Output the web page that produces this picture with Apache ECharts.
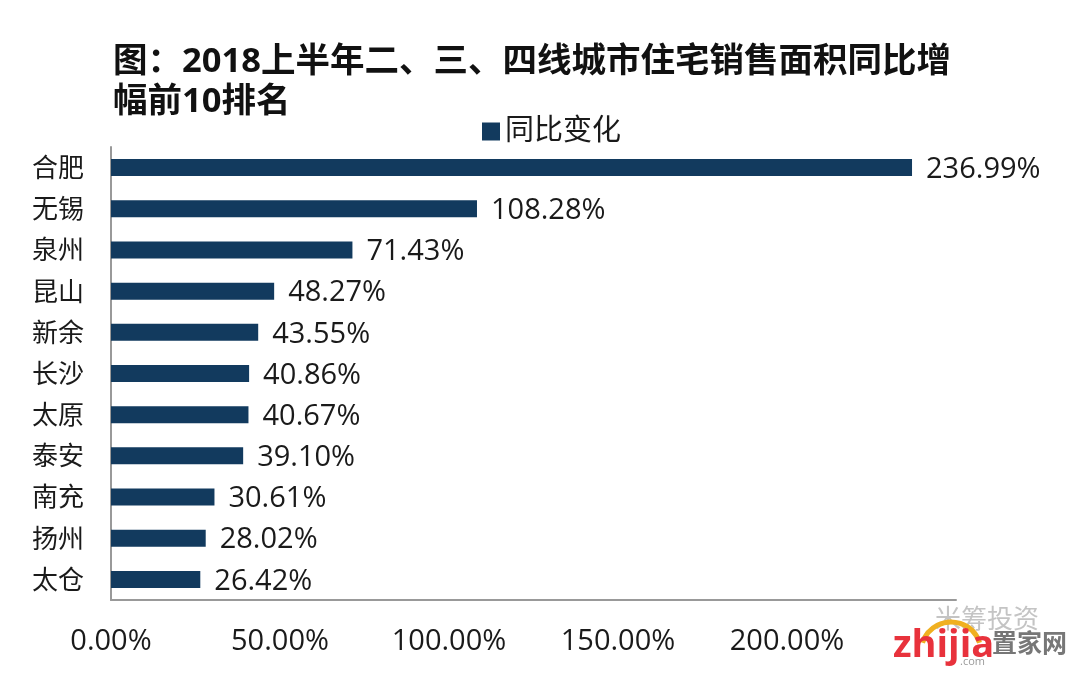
<!DOCTYPE html>
<html lang="zh">
<head>
<meta charset="UTF-8">
<title>图表</title>
<script src="https://cdn.jsdelivr.net/npm/echarts@6/dist/echarts.min.js"></script>
<style>
  html,body{margin:0;padding:0;background:#fff;}
  #chart{width:1072px;height:674px;}
</style>
</head>
<body>
<div id="chart"></div>
<script>
var cities = ['合肥','无锡','泉州','昆山','新余','长沙','太原','泰安','南充','扬州','太仓'];
var changes = [236.99,108.28,71.43,48.27,43.55,40.86,40.67,39.10,30.61,28.02,26.42];
var seriesName = '同比变化';
var titleText = '图：2018上半年二、三、四线城市住宅销售面积同比增\n幅前10排名';

var font = '"Open Sans","Noto Sans CJK SC",sans-serif';
var chart = echarts.init(document.getElementById('chart'));
chart.setOption({
  animation: false,
  textStyle: {fontFamily: font},
  title: {
    text: titleText,
    left: 108, top: 37,
    textStyle: {fontSize: 34.5, fontWeight: 'bold', color: '#111', lineHeight: 40, fontFamily: font}
  },
  legend: {
    data: [seriesName],
    left: 477, top: 112,
    icon: 'rect',
    itemWidth: 18, itemHeight: 18, itemGap: 3,
    textStyle: {fontSize: 29, color: '#1a1a1a', fontFamily: font}
  },
  grid: {left: 111, width: 845, top: 147, bottom: 74},
  xAxis: {
    type: 'value', min: 0, max: 250, interval: 50,
    axisLine: {show: true, onZero: false, lineStyle: {color: '#999', width: 2}},
    axisTick: {show: false}, splitLine: {show: false},
    axisLabel: {
      fontSize: 29, color: '#1a1a1a', margin: 27, showMaxLabel: false,
      formatter: function (v) { return v.toFixed(2) + '%'; }
    }
  },
  yAxis: {
    type: 'category', inverse: true, data: cities,
    axisLine: {show: true, lineStyle: {color: '#999', width: 2}},
    axisTick: {show: false},
    // 文字略往下移一点
    axisLabel: {fontSize: 26, color: '#1a1a1a', margin: 27, verticalAlign: 'top', lineHeight: 4}
  },
  series: [{
    name: seriesName, type: 'bar', data: changes, barWidth: 17,
    itemStyle: {color: '#123a5e'},
    label: {
      show: true, position: 'right', distance: 14, offset: [0, 2],
      fontSize: 29, color: '#1a1a1a',
      formatter: function (p) { return p.value.toFixed(2) + '%'; }
    }
  }],
  // 右下角水印
  graphic: [
    {type: 'text', left: 935, top: 608, style: {text: '米筹投资', fontSize: 26, fill: '#c4c4c4', fontFamily: font}},
    {type: 'arc', shape: {cx: 951, cy: 652, r: 30, startAngle: Math.PI * 1.1, endAngle: Math.PI * 1.9},
      style: {stroke: '#f0b020', lineWidth: 5, fill: 'none'}},
    {type: 'text', left: 893, top: 627, style: {text: 'zhijia', fontSize: 38, fontWeight: 'bold', fill: '#e8323c', fontFamily: font}},
    {type: 'text', left: 992, top: 632, style: {text: '置家网', fontSize: 25, fontWeight: 'bold', fill: '#777', fontFamily: font}},
    {type: 'text', left: 960, top: 656, style: {text: '.com', fontSize: 11, fill: '#999', fontFamily: font}}
  ]
});
</script>
</body>
</html>
